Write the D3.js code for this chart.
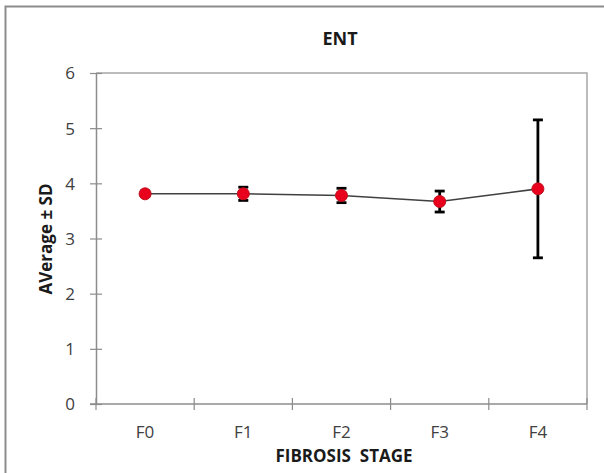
<!DOCTYPE html>
<html>
<head>
<meta charset="utf-8">
<script src="https://cdn.jsdelivr.net/npm/d3@7"></script>
<style>
  body { margin: 0; background: #fff; }
  svg { display: block; font-family: "Open Sans", "Noto Sans", sans-serif; }
</style>
</head>
<body>
<div id="chart"></div>
<script>
// data
const stages = ['F0', 'F1', 'F2', 'F3', 'F4']
const averages = [3.81, 3.81, 3.78, 3.67, 3.90]
const sds = [0.05, 0.12, 0.13, 0.19, 1.25]
const yTicks = [0, 1, 2, 3, 4, 5, 6]

const width = 604, height = 473
const margin = { top: 73, right: 17, bottom: 69, left: 96 }

let svg = d3.select('#chart').append('svg')
    .attr('width', width)
    .attr('height', height)

// outer frame (runs off the bottom/right of the picture)
svg.append('rect')
    .attr('x', 5.5).attr('y', 6.5)
    .attr('width', 610).attr('height', 480)
    .attr('fill', '#fff')
    .attr('stroke', '#8c8c8c')
    .attr('stroke-width', 2)

let x = d3.scaleBand()
    .domain(stages)
    .range([margin.left, width - margin.right])

let y = d3.scaleLinear()
    .domain([0, 6])
    .range([height - margin.bottom, margin.top])

// plot frame (top + right)
svg.append('path')
    .attr('d', `M${margin.left},${margin.top}H${width - margin.right}V${height - margin.bottom}`)
    .attr('fill', 'none')
    .attr('stroke', '#a6a6a6')
    .attr('stroke-width', 1.5)

// y axis
let yAxis = svg.append('g')
    .attr('transform', `translate(${margin.left},0)`)
    .call(d3.axisLeft(y).tickValues(yTicks).tickSize(6).tickSizeOuter(0).tickFormat(d3.format('d')))
yAxis.attr('font-family', null)
yAxis.selectAll('.tick line').attr('x2', 6).attr('x1', -6)
    .attr('stroke', '#8c8c8c').attr('stroke-width', 1.2)
yAxis.selectAll('text').attr('x', -21).attr('dy', '0.35em')
    .attr('font-size', 17).attr('fill', '#404040')
yAxis.select('.domain').attr('stroke', '#8c8c8c').attr('stroke-width', 1.5)

// x axis: ticks at band boundaries
let bounds = stages.map(s => x(s)).concat([x.range()[1]])
let xg = svg.append('g')
    .attr('transform', `translate(0,${height - margin.bottom})`)
xg.append('line')
    .attr('x1', margin.left - 6).attr('x2', width - margin.right)
    .attr('stroke', '#8c8c8c').attr('stroke-width', 1.5)
xg.selectAll('.xtick').data(bounds).enter().append('line')
    .attr('x1', d => d).attr('x2', d => d)
    .attr('y1', -6).attr('y2', 6)
    .attr('stroke', '#8c8c8c').attr('stroke-width', 1.2)
xg.selectAll('.xlab').data(stages).enter().append('text')
    .attr('x', d => x(d) + x.bandwidth() / 2)
    .attr('y', 28)
    .attr('dy', '0.35em')
    .attr('text-anchor', 'middle')
    .attr('font-size', 17)
    .attr('fill', '#404040')
    .text(d => d)

let cx = d => x(d) + x.bandwidth() / 2

// connecting line
let pts = stages.map((s, i) => [cx(s), y(averages[i])])
svg.append('path')
    .attr('d', d3.line()(pts))
    .attr('fill', 'none')
    .attr('stroke', '#404040')
    .attr('stroke-width', 1.6)

// error bars
let eb = svg.append('g').attr('stroke', '#000').attr('stroke-width', 2.8)
stages.forEach((s, i) => {
    let lo = y(averages[i] - sds[i]), hi = y(averages[i] + sds[i])
    eb.append('line').attr('x1', cx(s)).attr('x2', cx(s)).attr('y1', lo).attr('y2', hi)
    eb.append('line').attr('x1', cx(s) - 5).attr('x2', cx(s) + 5).attr('y1', lo).attr('y2', lo)
    eb.append('line').attr('x1', cx(s) - 5).attr('x2', cx(s) + 5).attr('y1', hi).attr('y2', hi)
})

// markers
svg.selectAll('.pt').data(stages).enter().append('circle')
    .attr('cx', d => cx(d))
    .attr('cy', (d, i) => y(averages[i]))
    .attr('r', 6)
    .attr('fill', '#e8001c')
    .attr('stroke', '#c0101e')
    .attr('stroke-width', 1)

// titles
svg.append('text')
    .attr('x', 340).attr('y', 39).attr('dy', '0.35em')
    .attr('text-anchor', 'middle')
    .attr('font-size', 18).attr('font-weight', 'bold').attr('fill', '#1a1a1a')
    .text('ENT')

svg.append('text')
    .attr('x', 344).attr('y', 456).attr('dy', '0.35em')
    .attr('text-anchor', 'middle')
    .attr('font-size', 17).attr('font-weight', 'bold').attr('fill', '#1a1a1a')
    .text('FIBROSIS\u00a0 STAGE')

svg.append('text')
    .attr('transform', 'translate(46,239) rotate(-90)')
    .attr('dy', '0.35em')
    .attr('text-anchor', 'middle')
    .attr('font-size', 17).attr('font-weight', 'bold').attr('fill', '#1a1a1a')
    .text('AVerage ± SD')
</script>
</body>
</html>
